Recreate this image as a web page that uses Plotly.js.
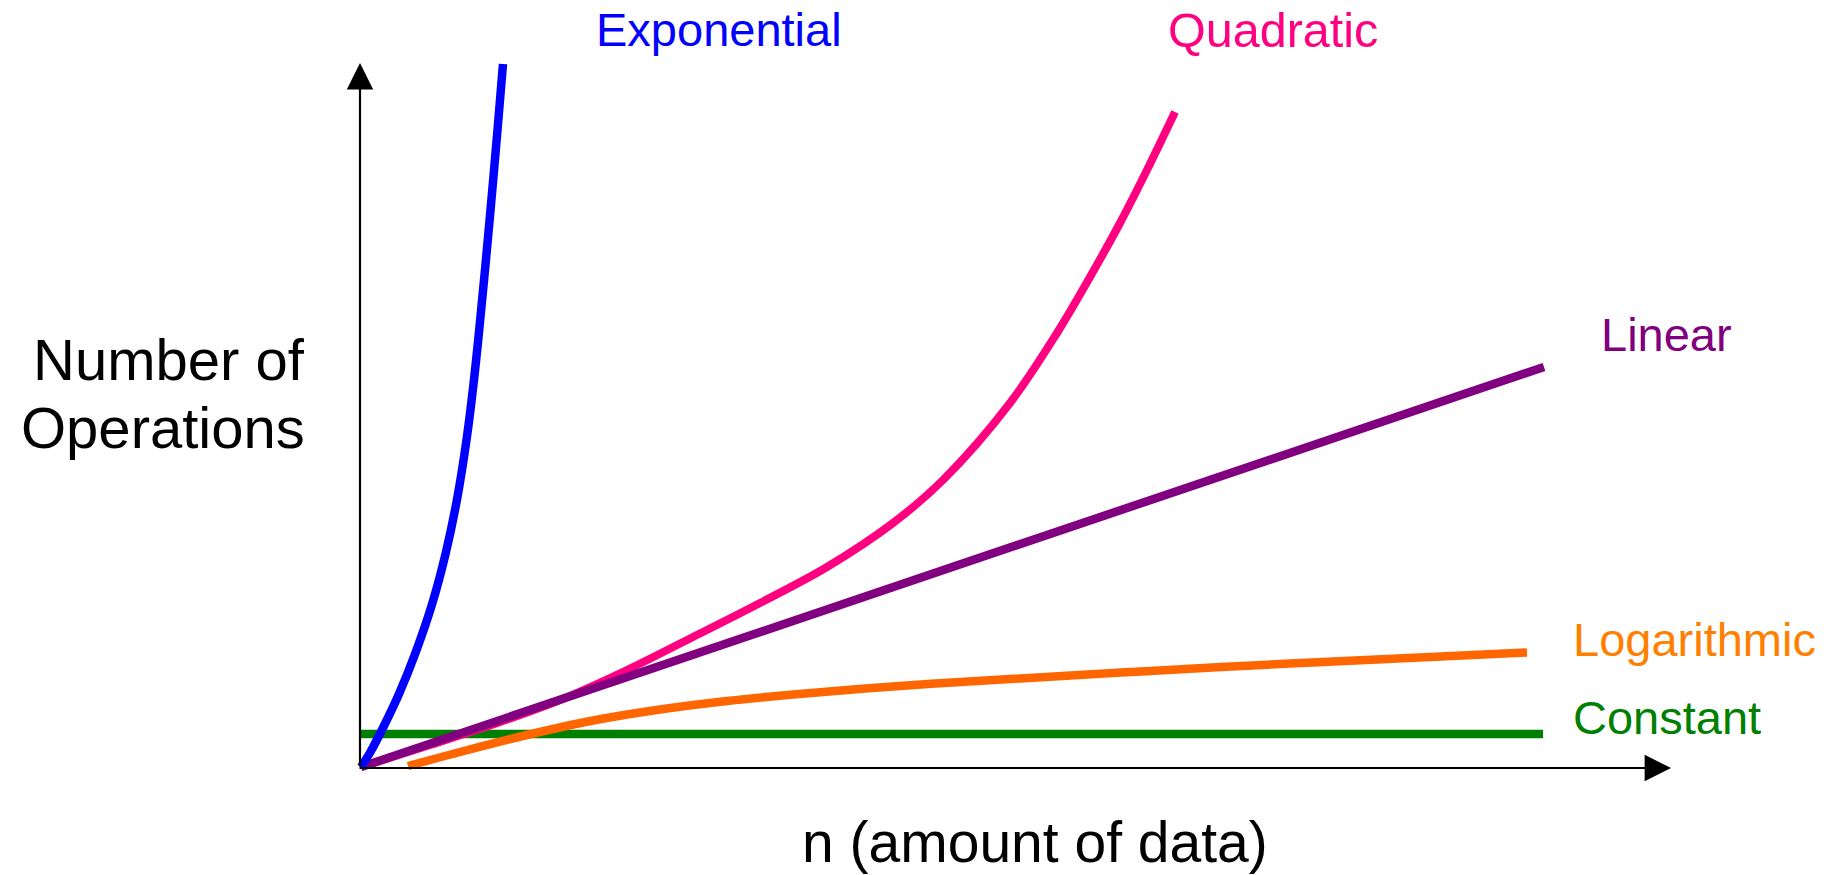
<!DOCTYPE html>
<html>
<head>
<meta charset="utf-8">
<script src="https://cdn.plot.ly/plotly-3.0.1.min.js"></script>
<style>
  html, body { margin: 0; padding: 0; background: #ffffff; }
  #chart { width: 1830px; height: 875px; }
</style>
</head>
<body>
<div id="chart"></div>
<script>
// ---- Data (n on x, number of operations on y) ----
const seriesNames = ["Constant", "Logarithmic", "Quadratic", "Linear", "Exponential"];

const constantX = [0, 118.3];
const constantY = [3.4, 3.4];

const logX = [4.8, 10.0, 16.7, 23.3, 30.0, 36.7, 43.3, 54.0, 65.0, 79.0, 94.0, 107.0, 116.7];
const logY = [0.2, 1.6, 3.3, 4.75, 5.85, 6.7, 7.35, 8.2, 8.9, 9.7, 10.5, 11.1, 11.55];

const quadX = [0.1, 7.0, 14.0, 20.0, 26.7, 33.3, 40.0, 46.7, 53.3, 58.3, 65.0, 69.7, 73.0, 76.0, 78.7, 81.5];
const quadY = [0.1, 2.3, 4.6, 6.8, 9.8, 13.1, 16.5, 20.1, 24.5, 28.8, 36.5, 43.5, 49.1, 54.5, 59.8, 65.6];

const linX = [0.1, 118.4];
const linY = [0.1, 40.1];

const expX = [0.1, 1.04, 2.34, 3.94, 5.58, 7.18, 8.53, 9.69, 10.65, 11.34, 11.92, 12.5, 13.14, 13.75, 14.3];
const expY = [0.1, 1.6, 4.1, 7.5, 11.6, 16.3, 21.3, 26.8, 32.8, 38.3, 43.8, 49.8, 56.8, 63.8, 70.4];

// ---- Styles ----
const FONT = "Liberation Sans, Arial, Helvetica, sans-serif";
const colors = {
  Constant: "#008000",
  Logarithmic: "#FF6600",
  LogarithmicText: "#FF8000",
  Quadratic: "#FF0080",
  Linear: "#800080",
  Exponential: "#0000FF"
};

function line(x, y, name, color, width) {
  return {
    type: "scatter", mode: "lines", x: x, y: y, name: name,
    line: { color: color, width: width, shape: "spline", smoothing: 1.0 },
    hoverinfo: "skip", showlegend: false
  };
}

const traces = [
  line(constantX, constantY, seriesNames[0], colors.Constant, 8.5),
  line(logX, logY, seriesNames[1], colors.Logarithmic, 8.5),
  line(quadX, quadY, seriesNames[2], colors.Quadratic, 8),
  line(linX, linY, seriesNames[3], colors.Linear, 8.5),
  line(expX, expY, seriesNames[4], colors.Exponential, 8.5)
];

function label(text, px, py, color, size, xanchor) {
  return {
    text: text, xref: "paper", yref: "paper",
    x: px / 1830, y: 1 - py / 875,
    xanchor: xanchor, yanchor: "middle",
    showarrow: false, borderpad: 0,
    font: { family: FONT, size: size, color: color }
  };
}

const annotations = [
  // axes with arrowheads
  { x: 0, y: 70.5, ax: 0, ay: 0, xref: "x", yref: "y", axref: "x", ayref: "y",
    showarrow: true, arrowhead: 2, arrowsize: 2.4, arrowwidth: 2.2, arrowcolor: "#000000",
    standoff: 0, startstandoff: 0, text: "" },
  { x: 131.1, y: 0, ax: -0.2, ay: 0, xref: "x", yref: "y", axref: "x", ayref: "y",
    showarrow: true, arrowhead: 2, arrowsize: 2.4, arrowwidth: 2.2, arrowcolor: "#000000",
    standoff: 0, startstandoff: 0, text: "" },
  // curve labels
  label("Exponential", 595, 30, colors.Exponential, 47, "left"),
  label("Quadratic", 1167, 30, colors.Quadratic, 48.5, "left"),
  label("Linear", 1600, 335, colors.Linear, 47, "left"),
  label("Logarithmic", 1572, 639, colors.LogarithmicText, 47, "left"),
  label("Constant", 1572, 717, colors.Constant, 47, "left"),
  // axis titles
  label("Number of", 306, 359, "#000000", 58, "right"),
  label("Operations", 306, 428, "#000000", 58, "right"),
  label("n (amount of data)", 1035, 842, "#000000", 57, "center")
];

const hidden = {
  showgrid: false, zeroline: false, showline: false, showticklabels: false,
  ticks: "", fixedrange: true
};

const layout = {
  width: 1830, height: 875,
  margin: { l: 0, r: 0, t: 0, b: 0, pad: 0 },
  paper_bgcolor: "#ffffff", plot_bgcolor: "#ffffff",
  xaxis: Object.assign({ range: [-36.0, 147.0] }, hidden),
  yaxis: Object.assign({ range: [-10.7, 76.8] }, hidden),
  showlegend: false,
  annotations: annotations,
  font: { family: FONT }
};

Plotly.newPlot("chart", traces, layout, { displayModeBar: false, staticPlot: true });
</script>
</body>
</html>
